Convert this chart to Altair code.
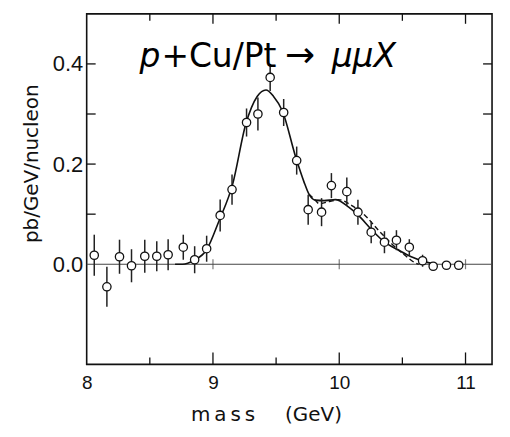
import altair as alt
import pandas as pd

# ---- data ----
mass = [8.06, 8.16, 8.26, 8.355, 8.46, 8.555, 8.645, 8.765, 8.855, 8.95,
        9.057, 9.151, 9.266, 9.356, 9.453, 9.56, 9.663, 9.754, 9.86, 9.938,
        10.06, 10.148, 10.253, 10.358, 10.453, 10.555, 10.66, 10.744, 10.849, 10.946]
value = [0.018, -0.045, 0.015, -0.003, 0.016, 0.016, 0.019, 0.034, 0.009, 0.031,
         0.0975, 0.149, 0.283, 0.300, 0.373, 0.303, 0.207, 0.109, 0.104, 0.157,
         0.145, 0.104, 0.064, 0.044, 0.048, 0.034, 0.007, -0.004, -0.002, -0.002]
err = [0.041, 0.040, 0.034, 0.033, 0.033, 0.030, 0.031, 0.025, 0.027, 0.026,
       0.032, 0.030, 0.028, 0.033, 0.027, 0.027, 0.028, 0.030, 0.028, 0.025,
       0.028, 0.025, 0.022, 0.022, 0.020, 0.016, 0.012, 0.006, 0.004, 0.004]

fit_mass = [8.7, 8.76, 8.85, 8.95, 9.05, 9.156, 9.26, 9.35, 9.42, 9.48, 9.55,
            9.655, 9.72, 9.76, 9.81, 9.88, 9.97, 10.075, 10.15, 10.26, 10.36,
            10.47, 10.57, 10.68, 10.76]
fit_value = [0.0, 0.0, 0.008, 0.029, 0.088, 0.16, 0.28, 0.335, 0.348, 0.335, 0.306,
             0.214, 0.165, 0.14, 0.128, 0.127, 0.129, 0.114, 0.098, 0.068, 0.044,
             0.028, 0.015, 0.005, 0.0]

alt_mass = [9.76, 9.81, 9.84, 9.92, 9.995, 10.1, 10.21, 10.31, 10.415, 10.52, 10.6, 10.63]
alt_value = [0.14, 0.128, 0.121, 0.125, 0.129, 0.117, 0.096, 0.068, 0.041, 0.018, 0.003, 0.0]

x_labels = [8, 9, 10, 11]
y_labels = [0.0, 0.2, 0.4]
x_major = [9, 10, 11]
x_minor = [8.5, 9.5, 10.5]
y_ticks = [0.1, 0.2, 0.3, 0.4]
zero_ticks = [9, 10, 11]

title_parts = ["p", "+Cu/Pt", "\u2192", "\u03bc\u03bcX"]
x_title = "m\u2009a\u2009s\u2009s\u2003\u2002(GeV)"
y_title = "pb/GeV/nucleon"

# ---- tables ----
pts = pd.DataFrame({"mass": mass, "value": value,
                    "lo": [v - e for v, e in zip(value, err)],
                    "hi": [v + e for v, e in zip(value, err)]})
fit = pd.DataFrame({"mass": fit_mass, "value": fit_value})
fit2 = pd.DataFrame({"mass": alt_mass, "value": alt_value})

W, H = 407, 352
INK = "#111111"
xs = alt.Scale(domain=[8, 11.21], nice=False, zero=False)
ys = alt.Scale(domain=[-0.2, 0.5], nice=False, zero=False)

x_axis = alt.Axis(
    values=x_labels, format="d", ticks=False, tickSize=0, domain=False, grid=False,
    labelFont="Liberation Sans", labelFontSize=19, labelColor=INK, labelPadding=9,
    labelFlush=False, labelOverlap=False,
    title=x_title, titleFont="DejaVu Sans", titleFontSize=20, titleFontWeight="normal",
    titleColor=INK, titleX=180, titleY=50, titleBaseline="middle", titleAlign="center")
y_axis = alt.Axis(
    values=y_labels, format=".1f", ticks=False, tickSize=0, domain=False, grid=False,
    labelFont="Liberation Sans", labelFontSize=22, labelColor=INK, labelPadding=4,
    labelFlush=False, labelOverlap=False,
    title=y_title, titleFont="DejaVu Sans", titleFontSize=20, titleFontWeight="normal",
    titleColor=INK, titleX=-55, titleY=150, titleAngle=270, titleBaseline="middle",
    titleAlign="center")


def X(f="mass"):
    return alt.X(f"{f}:Q", scale=xs, axis=x_axis, title=x_title)


def Y(f="value"):
    return alt.Y(f"{f}:Q", scale=ys, axis=y_axis, title=y_title)


# zero line
zero = alt.Chart(pd.DataFrame({"z": [0]})).mark_rule(color="#444", strokeWidth=1.2).encode(y=Y("z"))
zt = alt.Chart(pd.DataFrame({"t": zero_ticks, "z": [0] * len(zero_ticks)})).mark_tick(
    orient="vertical", size=10, thickness=1.2, color="#444").encode(x=X("t"), y=Y("z"))

# frame ticks (inward)
rule = dict(color=INK, strokeWidth=1.3)
bot_major = alt.Chart(pd.DataFrame({"t": x_major})).mark_rule(**rule).encode(
    x=X("t"), y=alt.value(H), y2=alt.value(H - 12))
bot_minor = alt.Chart(pd.DataFrame({"t": x_minor})).mark_rule(**rule).encode(
    x=X("t"), y=alt.value(H), y2=alt.value(H - 7))
top_major = alt.Chart(pd.DataFrame({"t": x_major})).mark_rule(**rule).encode(
    x=X("t"), y=alt.value(0), y2=alt.value(10))
top_minor = alt.Chart(pd.DataFrame({"t": x_minor})).mark_rule(**rule).encode(
    x=X("t"), y=alt.value(0), y2=alt.value(7))
left_t = alt.Chart(pd.DataFrame({"t": y_ticks})).mark_rule(**rule).encode(
    y=Y("t"), x=alt.value(0), x2=alt.value(9))
right_t = alt.Chart(pd.DataFrame({"t": y_ticks})).mark_rule(**rule).encode(
    y=Y("t"), x=alt.value(W), x2=alt.value(W - 9))

# curves
solid = alt.Chart(fit).mark_line(color=INK, strokeWidth=1.6, interpolate="monotone").encode(
    x=X(), y=Y(), order="mass:Q")
dashed = alt.Chart(fit2).mark_line(color=INK, strokeWidth=1.4, strokeDash=[5, 3],
                                   interpolate="monotone").encode(x=X(), y=Y(), order="mass:Q")

# error bars + points
bars = alt.Chart(pts).mark_rule(color="#222", strokeWidth=1.5).encode(
    x=X(), y=Y("lo"), y2="hi")
points = alt.Chart(pts).mark_point(shape="circle", size=70, fill="white", fillOpacity=1,
                                   stroke=INK, strokeWidth=1.3, opacity=1).encode(x=X(), y=Y())


# in-plot label
def label(txt, xpx, italic, size=33):
    kw = dict(text=txt, font="DejaVu Sans", fontSize=size, align="left",
              baseline="alphabetic", color="black")
    if italic:
        kw["fontStyle"] = "italic"
    return alt.Chart().mark_text(**kw).encode(x=alt.value(xpx), y=alt.value(53))


t1 = label(title_parts[0], 53, True)
t2 = label(title_parts[1], 75, False)
t3 = label(title_parts[2], 199, False, 36)
t4 = label(title_parts[3], 246, True)

chart = alt.layer(
    zero, zt, bot_major, bot_minor, top_major, top_minor, left_t, right_t,
    solid, dashed, bars, points, t1, t2, t3, t4
).properties(
    width=W, height=H,
    autosize=alt.AutoSizeParams(type="none"),
    padding={"left": 79, "top": 5, "right": 10, "bottom": 65},
    background="white",
).configure_view(stroke=INK, strokeWidth=1.6)

chart.save("out.html", embed_options={"renderer": "svg", "actions": False})
